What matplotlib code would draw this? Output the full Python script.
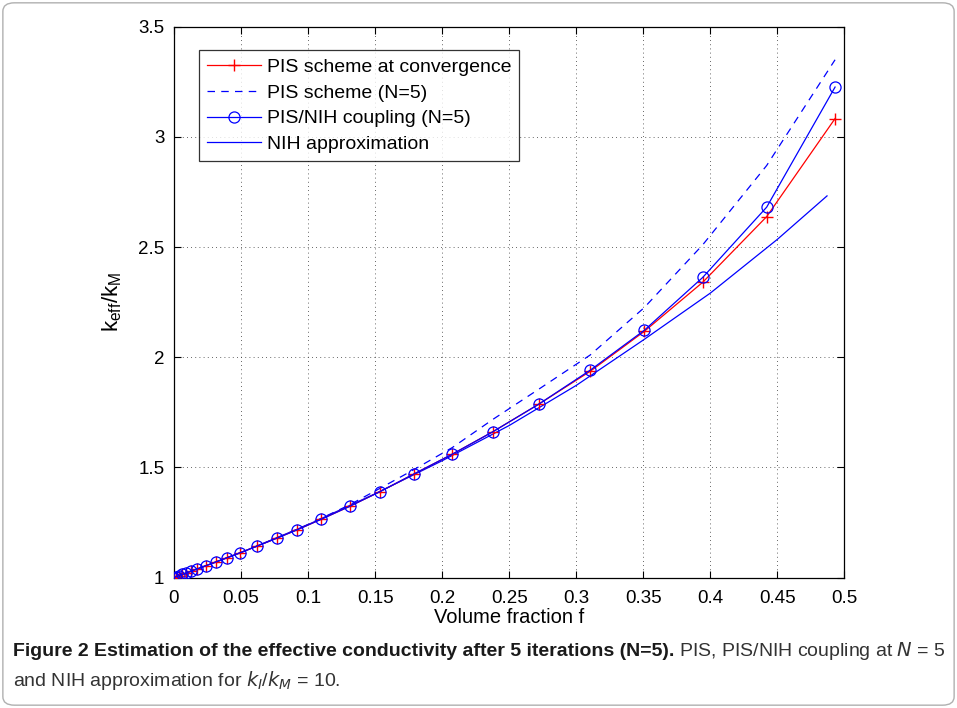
import matplotlib
matplotlib.use("Agg")
import matplotlib.pyplot as plt
from matplotlib.patches import FancyBboxPatch

# ---------------- data ----------------
f_pts = [0.0, 0.0012, 0.0037, 0.0062, 0.0092, 0.0124, 0.0174, 0.0236, 0.0310,
         0.0392, 0.0496, 0.0621, 0.0765, 0.0920, 0.1100, 0.1310, 0.1537, 0.1790,
         0.2076, 0.2379, 0.2721, 0.3104, 0.3507, 0.3943, 0.4420, 0.4930]

pis_conv = [1.000, 1.003, 1.008, 1.014, 1.021, 1.028, 1.039, 1.053, 1.070,
            1.089, 1.113, 1.143, 1.178, 1.217, 1.265, 1.323, 1.390, 1.470,
            1.560, 1.662, 1.787, 1.936, 2.117, 2.340, 2.638, 3.083]

pis_nih = [1.000, 1.003, 1.008, 1.014, 1.021, 1.028, 1.039, 1.053, 1.070,
           1.089, 1.113, 1.143, 1.178, 1.217, 1.265, 1.323, 1.390, 1.470,
           1.560, 1.662, 1.787, 1.941, 2.122, 2.362, 2.681, 3.226]

pis_n5 = [1.000, 1.003, 1.008, 1.014, 1.021, 1.028, 1.039, 1.053, 1.070,
          1.089, 1.113, 1.143, 1.179, 1.219, 1.269, 1.330, 1.405, 1.490,
          1.590, 1.718, 1.855, 2.010, 2.225, 2.510, 2.870, 3.350]

f_nih = [0.0, 0.05, 0.10, 0.15, 0.20, 0.25, 0.30, 0.35, 0.40, 0.45, 0.487]
nih = [1.000, 1.113, 1.240, 1.380, 1.530, 1.690, 1.872, 2.078, 2.291, 2.535, 2.732]

x_ticks = [0, 0.05, 0.1, 0.15, 0.2, 0.25, 0.3, 0.35, 0.4, 0.45, 0.5]
x_ticklabels = ["0", "0.05", "0.1", "0.15", "0.2", "0.25", "0.3", "0.35", "0.4", "0.45", "0.5"]
y_ticks = [1, 1.5, 2, 2.5, 3, 3.5]
y_ticklabels = ["1", "1.5", "2", "2.5", "3", "3.5"]

labels = ["PIS scheme at convergence", "PIS scheme (N=5)",
          "PIS/NIH coupling (N=5)", "NIH approximation"]

# ---------------- figure ----------------
plt.rcParams["font.family"] = ["Liberation Sans", "DejaVu Sans"]
plt.rcParams["mathtext.default"] = "regular"

fig = plt.figure(figsize=(9.57, 7.08), dpi=100)

# outer rounded frame
frame = FancyBboxPatch((0.003, 0.004), 0.994, 0.992,
                       boxstyle="round,pad=0,rounding_size=0.012",
                       transform=fig.transFigure, facecolor="white",
                       edgecolor="#b0b0b0", linewidth=1.0, zorder=-10)
fig.patches.append(frame)

ax = fig.add_axes([0.1818, 0.1843, 0.7006, 0.7780])
ax.set_xlim(0, 0.5)
ax.set_ylim(1, 3.5)

ax.plot(f_pts, pis_conv, color="red", lw=0.9, marker="+", ms=8, mew=1.0,
        label=labels[0], zorder=3)
ax.plot(f_pts, pis_n5, color="blue", lw=0.9, ls=(0, (6, 5)), label=labels[1], zorder=2)
ax.plot(f_pts, pis_nih, color="blue", lw=0.9, marker="o", ms=8, mfc="none", mew=0.9,
        label=labels[2], zorder=4)
ax.plot(f_nih, nih, color="blue", lw=0.9, label=labels[3], zorder=2)

ax.set_xticks(x_ticks)
ax.set_xticklabels(x_ticklabels)
ax.set_yticks(y_ticks)
ax.set_yticklabels(y_ticklabels)
ax.tick_params(direction="in", top=True, right=True, length=5, width=0.8,
               labelsize=13.5, pad=7)
ax.tick_params(axis="x", pad=9)
ax.grid(True, color="#333333", lw=0.6, ls=(0, (1, 4)))
for s in ax.spines.values():
    s.set_linewidth(0.9)

ax.set_xlabel("Volume fraction f", fontsize=14.5, labelpad=1)
ax.set_ylabel(r"k$_{eff}$/k$_{M}$", fontsize=16, labelpad=10)

leg = ax.legend(loc="upper left", bbox_to_anchor=(0.037, 0.957), fontsize=14,
                frameon=True, fancybox=False, edgecolor="black",
                handlelength=2.8, handletextpad=0.3, borderpad=0.4,
                labelspacing=0.42, borderaxespad=0)
leg.get_frame().set_linewidth(0.9)

# ---------------- caption ----------------
cap_font = ["Liberation Sans", "DejaVu Sans"]
t1 = fig.text(0.0136, 1 - 651 / 708,
              "Figure 2 Estimation of the effective conductivity after 5 iterations (N=5).",
              fontsize=14, fontweight="bold", family=cap_font, color="#1a1a1a",
              va="center", ha="left")
fig.canvas.draw()
bb = t1.get_window_extent()
x2 = (bb.x1 + 5) / fig.bbox.width
fig.text(x2, 1 - 651 / 708, r"PIS, PIS/NIH coupling at $\mathit{N}$ = 5",
         fontsize=14, family=cap_font, color="#333333", va="center", ha="left")
fig.text(0.0136, 1 - 680 / 708,
         r"and NIH approximation for $\mathit{k_I}$/$\mathit{k_M}$ = 10.",
         fontsize=14, family=cap_font, color="#333333", va="center", ha="left")

fig.savefig("out.png", dpi=100)
